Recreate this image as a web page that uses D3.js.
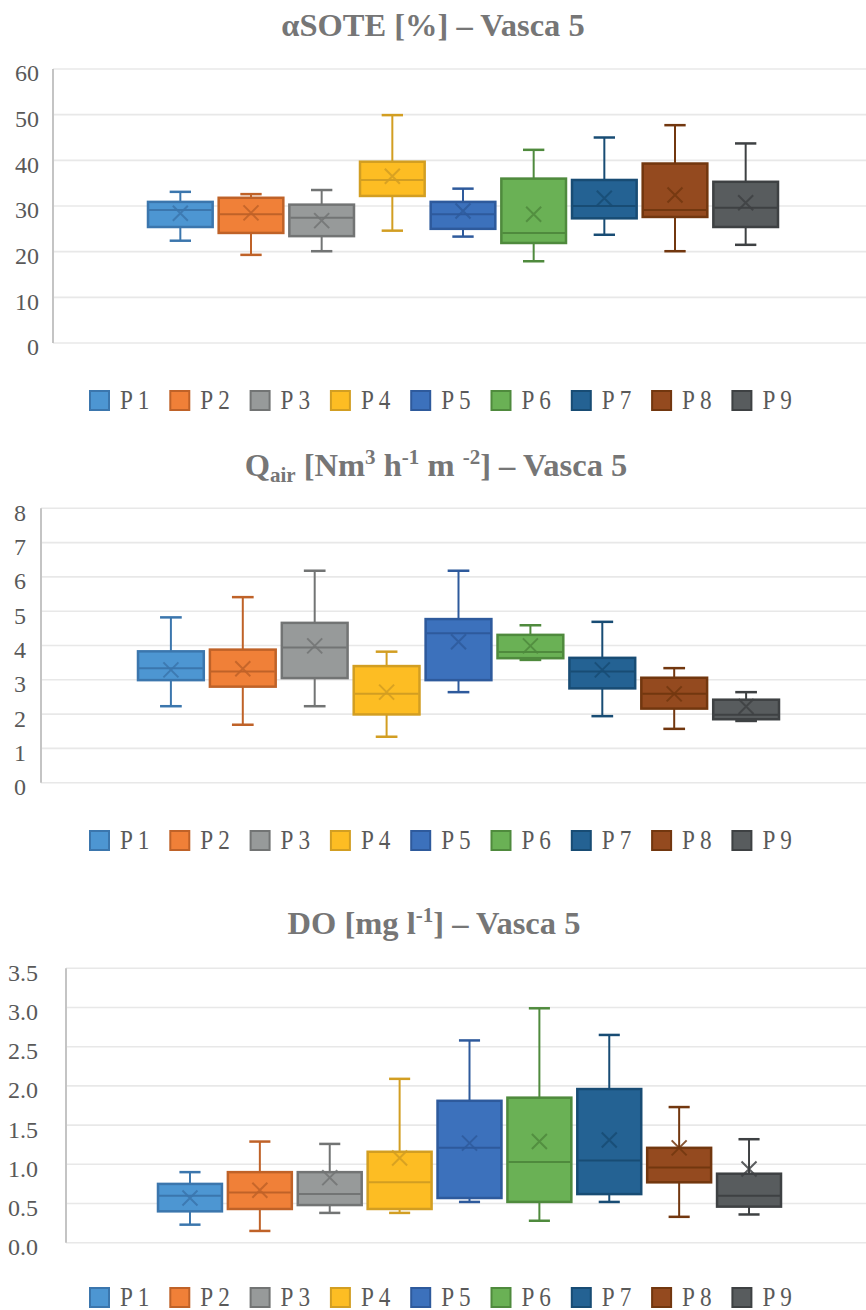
<!DOCTYPE html>
<html><head><meta charset="utf-8"><script src="https://d3js.org/d3.v7.min.js"></script></head>
<body style="margin:0">
<svg id="chart" width="866" height="1310"></svg>
<script>
// series names and colours
const series = ["P 1", "P 2", "P 3", "P 4", "P 5", "P 6", "P 7", "P 8", "P 9"];
const fills   = ["#4d96d2", "#f08038", "#979a9a", "#fdbd23", "#3c71bc", "#6ab155", "#246293", "#944a1f", "#585c5e"];
const strokes = ["#3b76ad", "#bf6228", "#727474", "#d29e22", "#2e5a9c", "#4f8a3d", "#184c74", "#72370f", "#3e4143"];

// αSOTE [%]
const soteMin  = [22.4, 19.3, 20.1, 24.6, 23.3, 17.9, 23.7, 20.1, 21.5];
const soteQ1   = [25.4, 24.1, 23.4, 32.2, 25.0, 21.9, 27.3, 27.6, 25.4];
const soteMed  = [29.1, 28.2, 27.4, 35.7, 28.2, 24.1, 30.0, 29.1, 29.6];
const soteQ3   = [30.9, 31.8, 30.3, 39.7, 30.9, 36.0, 35.7, 39.3, 35.3];
const soteMax  = [33.1, 32.6, 33.5, 49.9, 33.8, 42.3, 45.0, 47.7, 43.7];
const soteMean = [28.4, 28.5, 26.8, 36.5, 28.9, 28.2, 31.7, 32.4, 30.7];
const soteTicks = [0, 10, 20, 30, 40, 50, 60];

// Qair [Nm3 h-1 m-2]
const qairMin  = [2.23, 1.69, 2.23, 1.34, 2.64, 3.58, 1.94, 1.57, 1.80];
const qairQ1   = [2.99, 2.80, 3.05, 1.99, 2.99, 3.63, 2.75, 2.16, 1.85];
const qairMed  = [3.34, 3.24, 3.94, 2.59, 4.36, 3.81, 3.24, 2.59, 1.98];
const qairQ3   = [3.83, 3.88, 4.66, 3.40, 4.77, 4.31, 3.64, 3.06, 2.42];
const qairMax  = [4.82, 5.41, 6.18, 3.82, 6.18, 4.59, 4.69, 3.34, 2.64];
const qairMean = [3.29, 3.32, 3.99, 2.64, 4.11, 3.99, 3.29, 2.59, 2.22];
const qairTicks = [0, 1, 2, 3, 4, 5, 6, 7, 8];

// DO [mg l-1]
const doMin  = [0.23, 0.15, 0.38, 0.38, 0.52, 0.28, 0.52, 0.33, 0.36];
const doQ1   = [0.40, 0.43, 0.48, 0.43, 0.57, 0.52, 0.62, 0.77, 0.46];
const doMed  = [0.60, 0.64, 0.62, 0.77, 1.21, 1.03, 1.05, 0.96, 0.60];
const doQ3   = [0.75, 0.90, 0.90, 1.16, 1.81, 1.85, 1.96, 1.21, 0.88];
const doMax  = [0.90, 1.29, 1.26, 2.09, 2.58, 2.99, 2.65, 1.73, 1.32];
const doMean = [0.57, 0.67, 0.83, 1.08, 1.27, 1.29, 1.31, 1.21, 0.94];
const doTicks = [0, 0.5, 1.0, 1.5, 2.0, 2.5, 3.0, 3.5];

const svg = d3.select("#chart");
const W = 866;
const FONT = "Liberation Serif";

function drawChart(cfg) {
  const g = svg.append("g");

  // title
  const t = g.append("text")
    .attr("x", cfg.titleX).attr("y", cfg.titleY)
    .attr("text-anchor", "middle")
    .style("font-family", FONT).style("font-size", "32.5px")
    .style("font-weight", "bold").style("fill", "#767676");
  cfg.title.forEach(p => {
    const s = t.append("tspan").text(p.t);
    if (p.small) s.style("font-size", "21px");
    if (p.dy) s.attr("dy", p.dy);
  });

  const y = d3.scaleLinear()
    .domain([0, d3.max(cfg.ticks)])
    .range([cfg.bottom, cfg.top]);

  const x = d3.scaleBand()
    .domain(series)
    .range(cfg.band)
    .paddingInner(0.085);

  // gridlines
  g.selectAll(".grid").data(cfg.ticks).enter()
    .append("line").attr("class", "grid")
    .attr("x1", cfg.axisX).attr("x2", W)
    .attr("y1", d => y(d)).attr("y2", d => y(d))
    .attr("stroke", "#e8e8e8").attr("stroke-width", 1.6);

  // y axis line
  g.append("line")
    .attr("x1", cfg.axisX).attr("x2", cfg.axisX)
    .attr("y1", y(d3.max(cfg.ticks))).attr("y2", y(0))
    .attr("stroke", "#c4c4c4").attr("stroke-width", 2);

  g.selectAll(".tick").data(cfg.ticks).enter()
    .append("text").attr("class", "tick")
    .attr("x", cfg.labelX)
    .attr("y", d => y(d) + 4)
    .attr("dy", "0.35em")
    .attr("text-anchor", "end")
    .style("font-family", FONT).style("font-size", "24px").style("fill", "#595959")
    .text(d => cfg.fmt(d));

  const bw = x.bandwidth();
  const capW = bw * 0.33;
  const rows = series.map((s, i) => ({
    s: s, i: i,
    min: cfg.min[i], q1: cfg.q1[i], med: cfg.med[i],
    q3: cfg.q3[i], max: cfg.max[i], mean: cfg.mean[i]
  }));

  const box = g.selectAll(".box").data(rows).enter()
    .append("g").attr("class", "box");

  box.each(function(d) {
    const b = d3.select(this);
    const cx = x(d.s) + bw / 2;
    const col = strokes[d.i];
    // whiskers
    b.append("line")
      .attr("x1", cx).attr("x2", cx)
      .attr("y1", y(d.max)).attr("y2", y(d.q3))
      .attr("stroke", col).attr("stroke-width", 2);
    b.append("line")
      .attr("x1", cx).attr("x2", cx)
      .attr("y1", y(d.q1)).attr("y2", y(d.min))
      .attr("stroke", col).attr("stroke-width", 2);
    [d.max, d.min].forEach(v => {
      b.append("line")
        .attr("x1", cx - capW / 2).attr("x2", cx + capW / 2)
        .attr("y1", y(v)).attr("y2", y(v))
        .attr("stroke", col).attr("stroke-width", 2.5);
    });
    // box
    b.append("rect")
      .attr("x", x(d.s)).attr("width", bw)
      .attr("y", y(d.q3)).attr("height", y(d.q1) - y(d.q3))
      .attr("fill", fills[d.i])
      .attr("stroke", col).attr("stroke-width", 2.5);
    // median
    b.append("line")
      .attr("x1", x(d.s) + 1).attr("x2", x(d.s) + bw - 1)
      .attr("y1", y(d.med)).attr("y2", y(d.med))
      .attr("stroke", col).attr("stroke-width", 2);
    // mean marker
    const m = 7.5, my = y(d.mean);
    b.append("path")
      .attr("d", `M${cx - m},${my - m}L${cx + m},${my + m}M${cx - m},${my + m}L${cx + m},${my - m}`)
      .attr("stroke", col).attr("stroke-width", 2).attr("fill", "none")
      .attr("opacity", 0.85);
  });

  // legend
  const lx = d3.scaleBand().domain(series).range([89, 89 + 80.3 * 9]);
  const leg = g.selectAll(".legitem").data(series).enter()
    .append("g").attr("class", "legitem")
    .attr("transform", d => `translate(${lx(d)},${cfg.legendY})`);
  leg.append("rect")
    .attr("x", 1).attr("y", 1).attr("width", 19).attr("height", 19)
    .attr("fill", (d, i) => fills[i])
    .attr("stroke", (d, i) => strokes[i]).attr("stroke-width", 2);
  leg.append("text")
    .attr("transform", "translate(31,19) scale(0.86,1)")
    .style("font-family", FONT).style("font-size", "27px").style("fill", "#595959")
    .text(d => d);
}

drawChart({
  title: [{ t: "\u03b1SOTE [%]  \u2013 Vasca 5" }],
  titleX: 433, titleY: 36,
  ticks: soteTicks, fmt: d3.format("d"),
  top: 69, bottom: 343, axisX: 53, labelX: 39,
  band: [148, 778], legendY: 390,
  min: soteMin, q1: soteQ1, med: soteMed, q3: soteQ3, max: soteMax, mean: soteMean
});

drawChart({
  title: [
    { t: "Q" },
    { t: "air", small: true, dy: 6 },
    { t: " [Nm", dy: -6 },
    { t: "3", small: true, dy: -12 },
    { t: " h", dy: 12 },
    { t: "-1", small: true, dy: -12 },
    { t: " m ", dy: 12 },
    { t: "-2", small: true, dy: -12 },
    { t: "] \u2013 Vasca 5", dy: 12 }
  ],
  titleX: 436, titleY: 476,
  ticks: qairTicks, fmt: d3.format("d"),
  top: 508.3, bottom: 782.7, axisX: 41, labelX: 26,
  band: [138, 779], legendY: 830,
  min: qairMin, q1: qairQ1, med: qairMed, q3: qairQ3, max: qairMax, mean: qairMean
});

drawChart({
  title: [
    { t: "DO [mg l" },
    { t: "-1", small: true, dy: -12 },
    { t: "] \u2013 Vasca 5", dy: 12 }
  ],
  titleX: 434, titleY: 934,
  ticks: doTicks, fmt: d3.format(".1f"),
  top: 968.3, bottom: 1242.7, axisX: 66, labelX: 38,
  band: [158, 781], legendY: 1287,
  min: doMin, q1: doQ1, med: doMed, q3: doQ3, max: doMax, mean: doMean
});
</script>
</body>
</html>
